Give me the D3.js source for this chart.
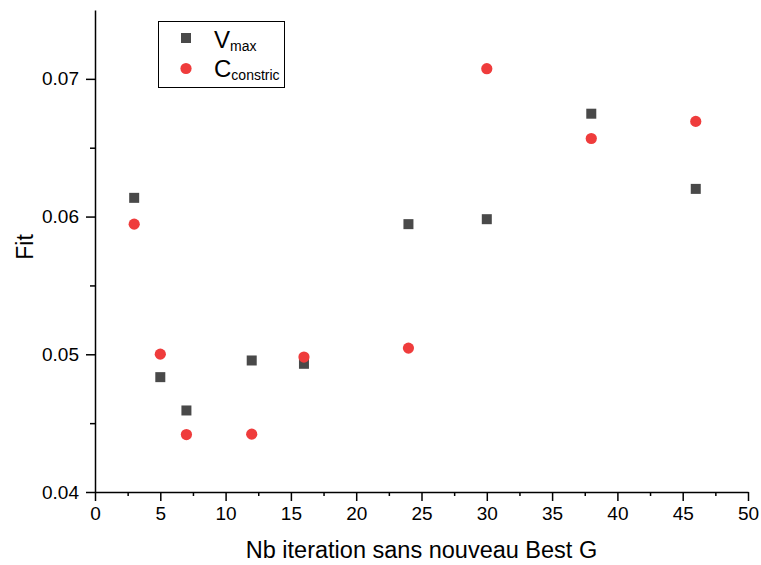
<!DOCTYPE html>
<html>
<head>
<meta charset="utf-8">
<script src="https://cdn.jsdelivr.net/npm/d3@7"></script>
<style>
  body { margin: 0; background: #fff; }
  svg { font-family: "Liberation Sans", Arial, sans-serif; }
</style>
</head>
<body>
<svg id="chart" width="761" height="565"></svg>
<script>
// iterations without a new best G
var iterations = [3, 5, 7, 12, 16, 24, 30, 38, 46];
var vmaxFit = [0.06136, 0.04834, 0.04592, 0.04955, 0.04931, 0.05945, 0.05981, 0.06747, 0.06201];
var cconstricFit = [0.05945, 0.05001, 0.04417, 0.04420, 0.04980, 0.05045, 0.07074, 0.06567, 0.06691];
var xMajor = [0, 5, 10, 15, 20, 25, 30, 35, 40, 45, 50];
var xMinor = [2.5, 7.5, 12.5, 17.5, 22.5, 27.5, 32.5, 37.5, 42.5, 47.5];
var yMajor = [0.04, 0.05, 0.06, 0.07];
var yMinor = [0.045, 0.055, 0.065];

var svg = d3.select("#chart");
var plotLeft = 95, plotRight = 748, plotTop = 10, plotBottom = 492;

var x = d3.scaleLinear().domain([0, 50]).range([plotLeft, plotRight]);
var y = d3.scaleLinear().domain([0.04, 0.075]).range([plotBottom, plotTop]);

var squareColor = "#494949", circleColor = "#ef3c3c";

// x axis
var xAxis = svg.append("g").attr("transform", "translate(0," + plotBottom + ")");
xAxis.call(d3.axisBottom(x).tickValues(xMajor).tickSize(9).tickSizeOuter(0).tickPadding(6).tickFormat(d3.format("d")));
xAxis.append("g").call(d3.axisBottom(x).tickValues(xMinor).tickSize(4).tickSizeOuter(0).tickFormat(""))
  .select(".domain").remove();

// y axis
var yAxis = svg.append("g").attr("transform", "translate(" + plotLeft + ",0)");
yAxis.call(d3.axisLeft(y).tickValues(yMajor).tickSize(9).tickSizeOuter(0).tickPadding(7).tickFormat(d3.format(".2f")));
yAxis.append("g").call(d3.axisLeft(y).tickValues(yMinor).tickSize(5).tickSizeOuter(0).tickFormat(""))
  .select(".domain").remove();

svg.selectAll(".domain").attr("stroke", "#000").attr("stroke-width", 1.5);
svg.selectAll(".tick line").attr("stroke", "#000").attr("stroke-width", 1.5);
svg.selectAll(".tick text").attr("font-size", 19).attr("fill", "#000")
  .attr("font-family", "'Liberation Sans', Arial, sans-serif");

// axis titles
svg.append("text")
  .attr("x", (plotLeft + plotRight) / 2).attr("y", 558)
  .attr("text-anchor", "middle").attr("font-size", 23.5)
  .text("Nb iteration sans nouveau Best G");
svg.append("text")
  .attr("transform", "translate(33,247) rotate(-90)")
  .attr("text-anchor", "middle").attr("font-size", 23)
  .text("Fit");

// points
var pts = iterations.map(function(d, i) { return { it: d, v: vmaxFit[i], c: cconstricFit[i] }; });
svg.append("g").selectAll("rect").data(pts).enter().append("rect")
  .attr("x", function(d) { return x(d.it) - 5; })
  .attr("y", function(d) { return y(d.v) - 5; })
  .attr("width", 10).attr("height", 10)
  .attr("fill", squareColor);
svg.append("g").selectAll("circle").data(pts).enter().append("circle")
  .attr("cx", function(d) { return x(d.it); })
  .attr("cy", function(d) { return y(d.c); })
  .attr("r", 5.6)
  .attr("fill", circleColor);

// legend
var lg = svg.append("g");
lg.append("rect").attr("x", 158.5).attr("y", 21.5).attr("width", 126).attr("height", 66)
  .attr("fill", "#fff").attr("stroke", "#000").attr("stroke-width", 1);
lg.append("rect").attr("x", 181).attr("y", 33).attr("width", 10).attr("height", 10).attr("fill", squareColor);
lg.append("circle").attr("cx", 186).attr("cy", 68.5).attr("r", 5.6).attr("fill", circleColor);

var t1 = lg.append("text").attr("x", 214).attr("y", 48).attr("font-size", 24);
t1.append("tspan").text("V");
t1.append("tspan").attr("font-size", 14).attr("dy", 3).text("max");
var t2 = lg.append("text").attr("x", 214).attr("y", 77).attr("font-size", 24);
t2.append("tspan").text("C");
t2.append("tspan").attr("font-size", 14).attr("dy", 3).text("constric");
</script>
</body>
</html>
